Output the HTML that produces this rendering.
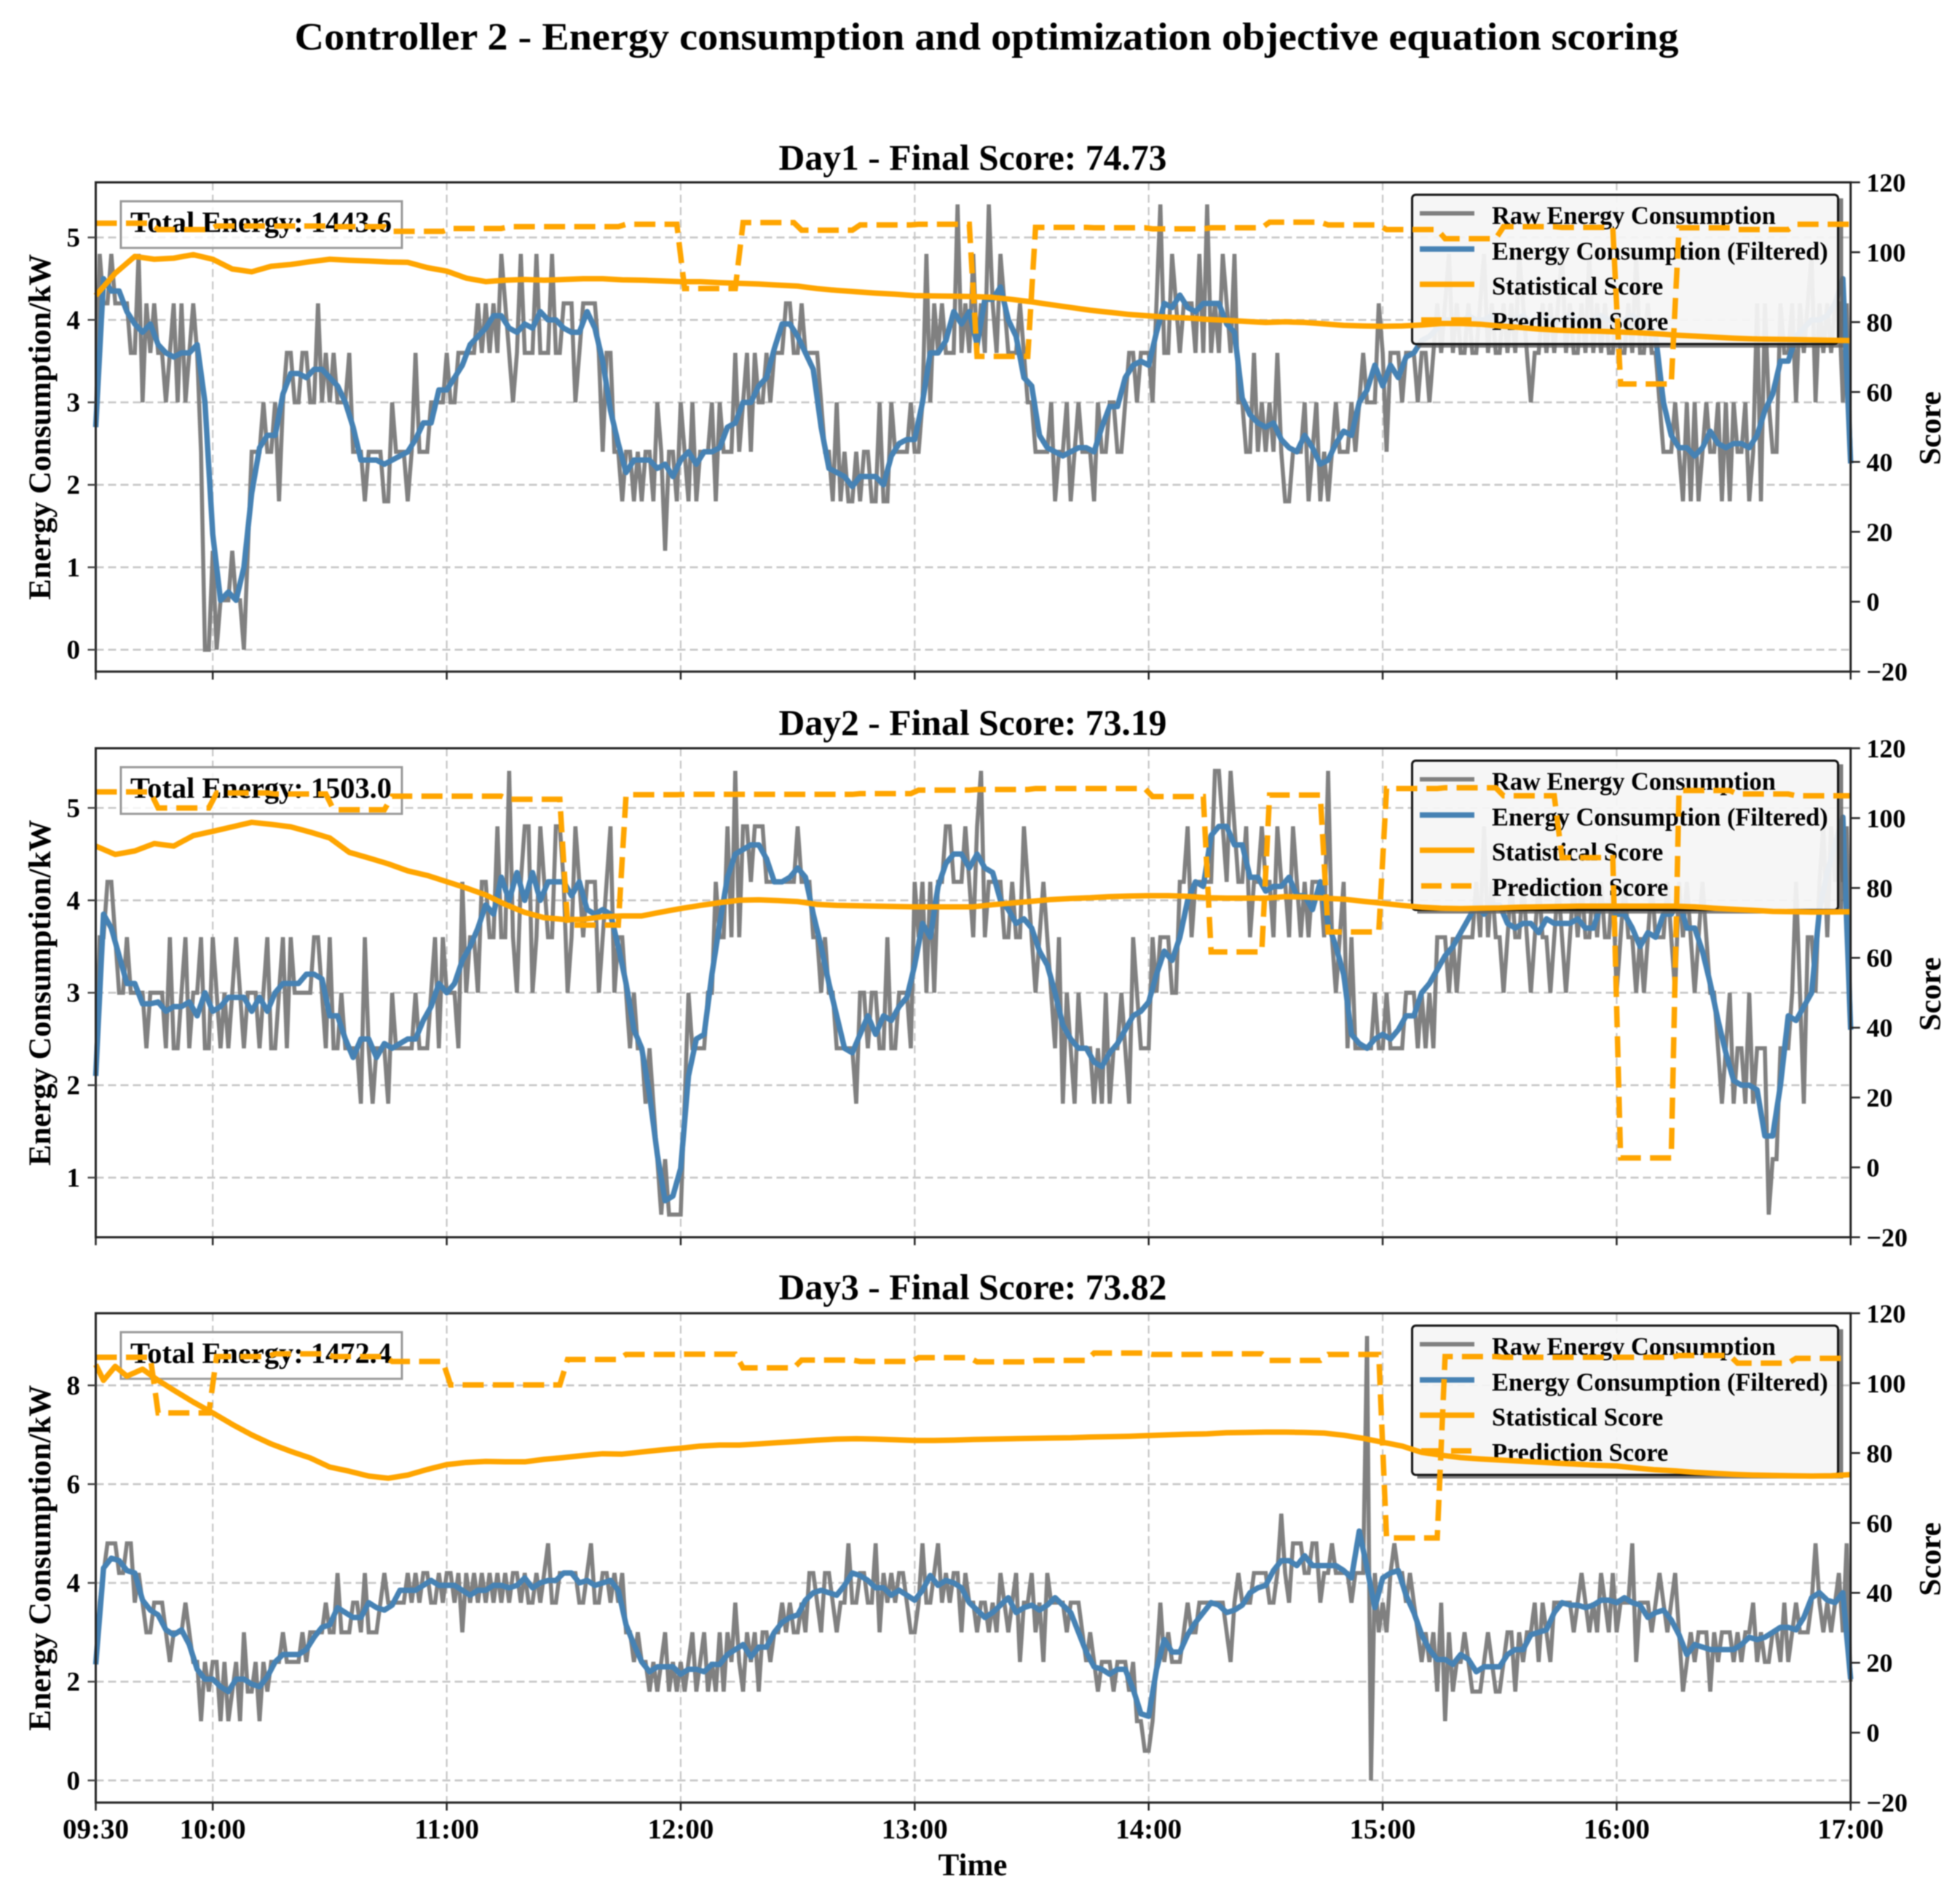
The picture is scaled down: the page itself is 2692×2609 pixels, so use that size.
<!DOCTYPE html>
<html lang="en">
<head>
<meta charset="utf-8">
<title>Controller 2 - Energy consumption and optimization objective equation scoring</title>
<style>
html,body{margin:0;padding:0;background:#fff;}
svg{display:block;filter:blur(0.7px);}
text{font-family:"Liberation Serif",serif;font-weight:bold;fill:#000;}
</style>
</head>
<body>
<svg id="figure" xmlns="http://www.w3.org/2000/svg" width="2692" height="2609" viewBox="0 0 2692 2609">
<rect width="2692" height="2609" fill="#fff"/>
<text x="1355" y="68" text-anchor="middle" font-size="53" textLength="1901" lengthAdjust="spacingAndGlyphs">Controller 2 - Energy consumption and optimization objective equation scoring</text>

<g>
<g id="p0-under"></g>
<g transform="translate(0,250.4)">
<rect x="166" y="26" width="386" height="64" fill="#fff" fill-opacity="0.8" stroke="#999" stroke-width="3"/>
<text x="179" y="68" font-size="40" textLength="359" lengthAdjust="spacingAndGlyphs">Total Energy: 1443.6</text>
</g>
<g transform="translate(0,250.4)">
<path d="M2524.5 22L2531.5 22L2531.5 227L1946.5 227L1946.5 222L2524.5 222Z" fill="#666" fill-opacity="0.85"/>
<rect x="1939.5" y="17" width="585" height="205" rx="5" fill="#f5f5f5" fill-opacity="0.93" stroke="#111" stroke-width="3"/>
<line x1="1950" x2="2025" y1="42.6" y2="42.6" stroke="#808080" stroke-width="6"/>
<text x="2049" y="57" font-size="34.4">Raw Energy Consumption</text>
<line x1="1950" x2="2025" y1="91.6" y2="91.6" stroke="#4682b4" stroke-width="7.5"/>
<text x="2049" y="106" font-size="34.4">Energy Consumption (Filtered)</text>
<line x1="1950" x2="2025" y1="140" y2="140" stroke="#ffa500" stroke-width="7.5"/>
<text x="2049" y="154" font-size="34.4">Statistical Score</text>
<line x1="1952" x2="2025" y1="189" y2="189" stroke="#ffa500" stroke-width="7.5" stroke-dasharray="28,13"/>
<text x="2049" y="202.6" font-size="34.4">Prediction Score</text>
</g>
<g id="p0-over"></g>
<g id="p0-axes"></g>
<text x="1336" y="233" text-anchor="middle" font-size="49.6" textLength="533" lengthAdjust="spacingAndGlyphs">Day1 - Final Score: 74.73</text>
<text transform="translate(69,586.3) rotate(-90)" text-anchor="middle" font-size="43.3" textLength="475" lengthAdjust="spacingAndGlyphs">Energy Consumption/kW</text>
<text transform="translate(2665,588) rotate(-90)" text-anchor="middle" font-size="42.7">Score</text>
</g>

<g>
<g id="p1-under"></g>
<g transform="translate(0,1027.5)">
<rect x="166" y="26" width="386" height="64" fill="#fff" fill-opacity="0.8" stroke="#999" stroke-width="3"/>
<text x="179" y="68" font-size="40" textLength="359" lengthAdjust="spacingAndGlyphs">Total Energy: 1503.0</text>
</g>
<g transform="translate(0,1027.5)">
<path d="M2524.5 22L2531.5 22L2531.5 227L1946.5 227L1946.5 222L2524.5 222Z" fill="#666" fill-opacity="0.85"/>
<rect x="1939.5" y="17" width="585" height="205" rx="5" fill="#f5f5f5" fill-opacity="0.93" stroke="#111" stroke-width="3"/>
<line x1="1950" x2="2025" y1="42.6" y2="42.6" stroke="#808080" stroke-width="6"/>
<text x="2049" y="57" font-size="34.4">Raw Energy Consumption</text>
<line x1="1950" x2="2025" y1="91.6" y2="91.6" stroke="#4682b4" stroke-width="7.5"/>
<text x="2049" y="106" font-size="34.4">Energy Consumption (Filtered)</text>
<line x1="1950" x2="2025" y1="140" y2="140" stroke="#ffa500" stroke-width="7.5"/>
<text x="2049" y="154" font-size="34.4">Statistical Score</text>
<line x1="1952" x2="2025" y1="189" y2="189" stroke="#ffa500" stroke-width="7.5" stroke-dasharray="28,13"/>
<text x="2049" y="202.6" font-size="34.4">Prediction Score</text>
</g>
<g id="p1-over"></g>
<g id="p1-axes"></g>
<text x="1336" y="1009" text-anchor="middle" font-size="49.6" textLength="533" lengthAdjust="spacingAndGlyphs">Day2 - Final Score: 73.19</text>
<text transform="translate(69,1363.2) rotate(-90)" text-anchor="middle" font-size="43.3" textLength="475" lengthAdjust="spacingAndGlyphs">Energy Consumption/kW</text>
<text transform="translate(2665,1365) rotate(-90)" text-anchor="middle" font-size="42.7">Score</text>
</g>

<g>
<g id="p2-under"></g>
<g transform="translate(0,1803.3)">
<rect x="166" y="26" width="386" height="64" fill="#fff" fill-opacity="0.8" stroke="#999" stroke-width="3"/>
<text x="179" y="68" font-size="40" textLength="359" lengthAdjust="spacingAndGlyphs">Total Energy: 1472.4</text>
</g>
<g transform="translate(0,1803.3)">
<path d="M2524.5 22L2531.5 22L2531.5 227L1946.5 227L1946.5 222L2524.5 222Z" fill="#666" fill-opacity="0.85"/>
<rect x="1939.5" y="17" width="585" height="205" rx="5" fill="#f5f5f5" fill-opacity="0.93" stroke="#111" stroke-width="3"/>
<line x1="1950" x2="2025" y1="42.6" y2="42.6" stroke="#808080" stroke-width="6"/>
<text x="2049" y="57" font-size="34.4">Raw Energy Consumption</text>
<line x1="1950" x2="2025" y1="91.6" y2="91.6" stroke="#4682b4" stroke-width="7.5"/>
<text x="2049" y="106" font-size="34.4">Energy Consumption (Filtered)</text>
<line x1="1950" x2="2025" y1="140" y2="140" stroke="#ffa500" stroke-width="7.5"/>
<text x="2049" y="154" font-size="34.4">Statistical Score</text>
<line x1="1952" x2="2025" y1="189" y2="189" stroke="#ffa500" stroke-width="7.5" stroke-dasharray="28,13"/>
<text x="2049" y="202.6" font-size="34.4">Prediction Score</text>
</g>
<g id="p2-over"></g>
<g id="p2-axes"></g>
<text x="1336" y="1784" text-anchor="middle" font-size="49.6" textLength="533" lengthAdjust="spacingAndGlyphs">Day3 - Final Score: 73.82</text>
<text transform="translate(69,2139.3) rotate(-90)" text-anchor="middle" font-size="43.3" textLength="475" lengthAdjust="spacingAndGlyphs">Energy Consumption/kW</text>
<text transform="translate(2665,2141) rotate(-90)" text-anchor="middle" font-size="42.7">Score</text>
</g>

<text x="1336" y="2575" text-anchor="middle" font-size="43">Time</text>
</svg>

<script>
// ---- shared tick data ----
const xTickMinutes = [0, 30, 90, 150, 210, 270, 330, 390, 450];
const xTickLabels = ["09:30", "10:00", "11:00", "12:00", "13:00", "14:00", "15:00", "16:00", "17:00"];
const scoreTicks = [-20, 0, 20, 40, 60, 80, 100, 120];
const day1EnergyTicks = [0, 1, 2, 3, 4, 5];
const day2EnergyTicks = [1, 2, 3, 4, 5];
const day3EnergyTicks = [0, 2, 4, 6, 8];

// ---- Day 1 (raw: 1 min step, filtered: 2 min step, statistical: 5 min step, prediction: 15 min blocks) ----
const day1Raw = [
2.7,4.8,4.2,4.2,4.8,4.2,4.2,4.2,4.2,3.6,3.6,4.8,3.0,4.2,3.6,4.2,3.6,3.6,3.0,3.6,4.2,3.0,4.2,3.0,3.6,4.2,3.6,2.4,0,0,
1.2,0,0.6,0.6,0.6,1.2,0.6,0.6,0,1.2,2.4,2.4,2.4,3.0,2.4,2.4,3.0,1.8,3.0,3.6,3.6,3.0,3.0,3.6,3.6,3.0,3.0,4.2,3.0,3.6,3.0,3.6,3.0,3.0,3.0,3.6,2.4,2.4,2.4,1.8,2.4,2.4,2.4,2.4,1.8,1.8,3.0,2.4,2.4,2.4,1.8,2.4,3.6,2.4,2.4,2.4,3.0,3.0,3.0,3.0,
3.6,3.0,3.0,3.6,3.6,3.6,3.6,3.6,4.2,3.6,4.2,3.6,4.2,3.6,4.8,4.2,3.6,3.0,3.6,4.8,3.6,3.6,3.6,4.8,3.6,3.6,3.6,4.8,3.6,3.6,4.2,4.2,4.2,3.0,3.6,4.2,4.2,4.2,4.2,3.6,2.4,3.6,3.6,2.4,2.4,1.8,2.4,2.4,1.8,2.4,1.8,2.4,2.4,1.8,3.0,2.4,1.2,2.4,2.4,1.8,
3.0,2.4,1.8,3.0,1.8,2.4,2.4,2.4,3.0,1.8,3.0,2.4,2.4,2.4,3.6,2.4,3.0,3.6,2.4,3.6,3.0,3.0,3.6,3.0,3.6,3.6,3.6,4.2,4.2,3.6,3.6,4.2,3.6,3.6,3.6,3.6,3.0,2.4,2.4,1.8,3.0,1.8,2.4,1.8,1.8,2.4,1.8,2.4,2.4,1.8,1.8,3.0,1.8,1.8,3.0,2.4,2.4,2.4,2.4,3.0,
2.4,2.4,3.0,4.8,3.0,4.2,3.6,4.2,3.6,3.6,3.6,5.4,3.6,4.2,3.6,4.8,3.6,4.2,3.6,5.4,4.2,3.6,4.8,4.2,3.6,3.6,3.6,4.2,3.6,3.0,3.0,2.4,2.4,2.4,2.4,3.0,1.8,2.4,2.4,3.0,1.8,2.4,3.0,2.4,2.4,2.4,1.8,3.0,2.4,2.4,3.0,3.0,2.4,2.4,3.0,3.6,3.6,3.0,3.6,3.6,
3.6,3.0,4.2,5.4,3.6,3.6,4.8,4.2,3.6,4.2,4.2,4.2,3.6,4.8,3.6,5.4,3.6,4.2,3.6,4.8,4.2,3.6,4.8,3.0,3.0,2.4,2.4,3.6,2.4,3.0,2.4,3.0,2.4,3.6,2.4,1.8,1.8,2.4,2.4,2.4,3.0,1.8,2.4,3.0,1.8,2.4,1.8,2.4,3.0,2.4,2.4,2.4,3.0,2.4,3.0,3.6,3.0,3.0,3.0,4.2,
3.6,2.4,3.6,3.6,3.6,3.0,3.6,3.6,3.6,3.0,3.6,3.6,3.0,3.6,4.2,3.6,4.2,4.8,3.6,4.2,3.6,3.6,4.2,3.6,3.6,4.2,4.8,3.6,4.2,3.6,3.6,4.2,3.6,4.2,3.6,4.8,4.2,3.6,3.0,3.6,3.6,4.2,3.6,4.2,3.6,4.2,4.8,3.6,4.2,3.6,3.6,4.2,3.6,4.8,3.6,4.2,3.6,4.2,3.6,3.6,
4.2,3.6,3.6,4.2,3.6,4.8,3.6,3.6,4.2,3.6,3.6,3.0,2.4,2.4,2.4,3.0,2.4,1.8,3.0,1.8,3.0,1.8,2.4,3.0,2.4,2.4,3.0,1.8,3.0,1.8,3.0,2.4,2.4,3.0,1.8,2.4,4.2,1.8,4.2,3.0,2.4,2.4,4.2,3.6,3.6,4.2,3.0,4.2,3.6,4.2,4.8,3.0,4.2,3.6,4.2,3.6,4.2,4.2,3.0,4.2,2.4
];
const day1Filtered = [
2.7,4.5,4.35,4.35,4.1,3.95,3.85,3.95,3.7,3.6,3.55,3.6,3.6,3.7,3.0,
1.4,0.6,0.7,0.6,1.0,1.9,2.45,2.6,2.6,3.1,3.35,3.35,3.3,3.4,3.4,3.3,3.2,3.0,2.7,2.3,2.3,2.3,2.25,2.3,2.35,2.4,2.55,2.75,2.75,3.15,
3.15,3.3,3.45,3.7,3.8,3.9,4.05,4.05,3.9,3.85,3.95,3.9,4.1,4.0,4.0,3.9,3.85,3.85,4.1,3.9,3.5,2.9,2.5,2.15,2.3,2.3,2.3,2.2,2.25,2.1,
2.3,2.4,2.25,2.4,2.4,2.45,2.7,2.75,3.0,3.0,3.2,3.3,3.65,3.95,3.95,3.8,3.6,3.4,2.7,2.2,2.15,2.1,1.98,2.1,2.1,2.1,2.0,2.35,2.5,2.55,
2.55,3.0,3.6,3.6,3.75,4.1,3.95,4.1,3.7,4.25,4.25,4.4,4.0,3.8,3.3,3.2,2.6,2.45,2.4,2.35,2.4,2.45,2.45,2.4,2.7,2.95,2.95,3.3,3.45,3.5,
3.45,3.85,4.2,4.15,4.3,4.15,4.1,4.2,4.2,4.2,3.95,3.85,3.05,2.85,2.75,2.7,2.75,2.55,2.45,2.4,2.6,2.45,2.25,2.3,2.5,2.65,2.6,3.0,3.15,3.45,
3.2,3.45,3.3,3.55,3.6,3.75,3.8,3.9,4.0,4.0,3.95,4.05,4.0,4.0,4.05,3.95,4.0,4.0,4.05,3.95,4.0,4.05,3.95,4.0,4.05,4.0,3.95,4.0,4.05,4.0,
3.95,4.0,4.05,4.0,3.95,3.8,3.0,2.6,2.45,2.45,2.35,2.45,2.65,2.5,2.45,2.5,2.5,2.45,2.6,2.9,3.1,3.5,3.5,3.8,3.9,4.0,4.0,4.05,4.2,4.5,2.26
];
const day1Statistical = [87.6,94,98.8,98,98.3,99.3,98,95.2,94.4,96,96.5,97.3,98,97.7,97.5,97.2,97.1,95.6,94.6,92.6,91.6,92,92.2,92,92.2,92.4,92.4,92.1,92,91.8,91.6,91.6,91.3,91.1,90.9,90.6,90.3,89.6,89.1,88.7,88.3,88,87.6,87.5,87.4,87.3,87.1,86.5,85.8,85,84.2,83.4,82.8,82.2,81.8,81.4,81.2,80.8,80.5,80.2,79.9,80.1,79.9,79.5,79.1,78.9,78.8,78.9,79.2,79.6,79.6,79.4,78.9,78.5,78,77.7,77.5,77.4,77.2,77,76.7,76.3,76,75.7,75.4,75.2,75.1,75,74.9,74.8,74.73];
const day1Prediction = [108.3,106.5,107.5,107.5,107.3,106,106.8,107.3,107.3,108,89.6,108.5,106.3,107.8,108,70.2,107.1,107,106.7,107,108.6,107.8,106.5,103.9,107.3,107.1,62.3,107,106.5,108];

// ---- Day 2 ----
const day2Raw = [
2.1,3.6,3.6,4.2,4.2,3.6,3.0,3.0,3.6,3.0,3.0,3.0,3.0,2.4,3.0,3.0,3.0,3.0,2.4,3.6,2.4,2.4,3.0,3.6,2.4,3.0,3.0,3.6,2.4,2.4,
3.6,3.0,2.4,3.0,2.4,3.0,3.6,3.0,2.4,3.0,3.0,3.0,2.4,3.0,3.6,2.4,2.4,3.0,3.6,2.4,3.6,3.0,3.0,3.0,3.0,3.0,3.6,3.6,3.0,2.4,3.6,2.4,2.4,3.0,2.4,2.4,2.4,2.4,1.8,3.6,2.4,1.8,2.4,2.4,2.4,1.8,3.0,2.4,2.4,2.4,2.4,2.4,3.0,2.4,2.4,2.4,3.0,3.6,2.4,3.6,
3.0,3.0,3.0,2.4,4.2,3.0,3.6,3.6,3.0,4.2,4.2,3.6,3.6,4.8,3.6,3.6,5.4,3.6,3.0,4.2,4.8,4.8,3.0,3.6,4.8,4.2,3.6,3.6,4.8,4.8,4.2,3.0,3.6,4.8,4.2,3.6,4.2,4.2,4.2,3.0,3.6,4.2,4.8,3.0,3.6,3.6,3.0,2.4,3.0,2.4,2.4,1.8,2.4,1.8,1.2,0.6,1.2,0.6,0.6,0.6,
0.6,1.8,3.0,2.4,2.4,2.4,2.4,3.0,3.0,4.2,3.6,3.6,4.8,3.6,5.4,3.6,4.8,4.8,4.2,4.8,4.8,4.8,4.2,4.2,4.2,4.2,4.2,4.2,4.2,4.2,4.8,4.2,4.2,4.2,3.6,3.6,3.0,3.6,3.0,3.0,2.4,2.4,2.4,2.4,2.4,1.8,3.0,3.0,2.4,3.0,3.0,2.4,2.4,3.6,2.4,2.4,3.0,3.0,3.0,2.4,
4.2,3.6,4.2,3.0,4.2,3.0,4.2,4.2,4.8,4.8,4.2,4.2,4.2,4.8,4.2,3.6,4.8,5.4,3.6,4.2,4.2,4.2,4.2,3.6,3.6,4.2,3.6,3.6,4.8,4.2,3.6,3.0,3.6,4.2,3.6,3.0,2.4,3.6,1.8,3.0,2.4,1.8,3.0,2.4,2.4,2.4,1.8,2.4,1.8,3.0,1.8,2.4,2.4,3.0,2.4,1.8,3.6,3.0,2.4,2.4,
2.4,3.6,3.0,3.6,3.6,3.6,3.0,3.0,4.2,4.2,4.8,3.6,4.2,4.2,4.2,4.2,4.2,5.4,5.4,4.8,4.2,5.4,4.8,4.2,4.2,4.8,3.6,4.2,4.2,4.8,4.2,4.2,3.6,4.8,4.2,4.2,3.6,4.8,4.2,3.6,4.2,3.6,4.2,4.2,4.2,3.6,5.4,3.6,3.0,3.6,4.2,2.4,3.6,2.4,2.4,2.4,2.4,2.4,3.0,2.4,
2.4,3.0,2.4,2.4,2.4,2.4,3.0,3.0,3.0,2.4,3.0,2.4,3.0,2.4,3.6,3.6,3.6,3.0,3.6,3.0,3.6,3.6,3.6,3.6,4.2,3.6,4.8,3.6,4.2,3.6,3.6,3.0,3.6,4.2,3.6,3.6,4.2,3.6,3.0,3.6,4.2,3.6,3.6,3.0,3.6,4.2,3.6,3.0,3.6,4.2,3.6,4.2,3.6,3.6,4.2,3.6,4.2,3.6,3.6,4.2,
3.0,3.6,4.2,3.6,3.6,3.0,3.6,3.0,3.6,4.2,3.6,3.6,3.6,4.2,3.6,3.0,4.2,3.6,4.2,3.6,3.0,3.6,4.2,3.6,3.0,3.0,2.4,1.8,2.4,3.0,1.8,2.4,2.4,1.8,3.0,1.8,2.4,2.4,2.4,0.6,1.2,1.2,2.4,2.4,2.4,3.0,4.2,3.0,1.8,3.6,3.6,3.0,4.2,4.8,3.6,4.8,4.2,4.8,4.2,4.8,2.7
];
const day2Filtered = [
2.1,3.85,3.7,3.4,3.1,3.1,2.88,2.88,2.9,2.8,2.85,2.85,2.9,2.75,3.0,
2.8,2.85,2.95,2.95,2.95,2.8,2.95,2.8,3.0,3.1,3.1,3.1,3.2,3.2,3.15,2.75,2.75,2.5,2.3,2.5,2.5,2.3,2.45,2.4,2.45,2.5,2.5,2.7,2.85,3.1,
3.0,3.1,3.35,3.5,3.7,3.95,3.85,4.25,4.0,4.3,4.0,4.3,4.0,4.2,4.2,4.2,4.05,4.2,3.9,3.85,3.9,3.85,3.5,3.1,2.6,2.4,1.9,1.25,0.75,0.8,
1.1,2.1,2.5,2.55,3.2,3.75,4.25,4.5,4.55,4.6,4.6,4.45,4.2,4.2,4.25,4.35,4.25,3.85,3.5,3.1,2.75,2.4,2.35,2.55,2.75,2.55,2.75,2.7,2.85,2.95,
3.3,3.75,3.6,4.15,4.4,4.5,4.5,4.35,4.5,4.35,4.3,4.0,3.9,3.75,3.8,3.7,3.45,3.3,3.0,2.65,2.5,2.4,2.4,2.25,2.2,2.35,2.45,2.6,2.75,2.8,
2.9,3.2,3.45,3.35,3.6,4.0,4.2,4.15,4.7,4.8,4.8,4.6,4.6,4.25,4.25,4.1,4.15,4.15,4.25,4.05,4.05,3.9,4.2,3.75,3.5,3.2,2.55,2.45,2.4,2.5,
2.55,2.5,2.6,2.75,2.75,3.0,3.1,3.25,3.4,3.5,3.65,3.8,3.95,3.85,3.95,3.95,3.75,3.7,3.75,3.75,3.65,3.8,3.75,3.75,3.75,3.8,3.7,3.7,3.95,3.95,
3.85,3.85,3.7,3.5,3.65,3.6,3.85,3.85,4.0,3.7,3.7,3.45,3.1,2.7,2.35,2.05,2.0,2.0,1.95,1.45,1.45,2.0,2.75,2.7,2.85,3.0,3.9,4.3,4.6,4.9,2.6
];
const day2Statistical = [92,89.6,90.6,92.7,92,95,96.2,97.5,98.8,98.2,97.5,96,94.3,90.2,88.6,86.9,84.9,83.6,81.8,80,78,75.3,73,71.5,71,71,71.8,72,72,73.1,74.1,75,75.8,76.5,76.6,76.4,76.1,75.3,75,74.9,74.8,74.7,74.6,74.6,74.6,74.6,75.2,75.7,76.2,76.7,77,77.2,77.5,77.7,77.8,77.8,77.6,77.2,77.1,77.1,77.1,77.5,77.4,77.1,76.8,76.2,75.6,75,74.5,74.2,74.1,74.2,74.3,74.5,74.6,74.7,74.8,74.8,74.8,74.8,74.8,74.8,74.6,74.2,73.9,73.6,73.3,73.2,73.1,73.15,73.19];
const day2Prediction = [107.5,102.9,107.2,106.9,102.4,106.3,106.3,105.4,69.4,106.7,106.8,106.8,106.8,107,108,108.2,108.5,108.5,106.2,61.7,106.6,67.4,108.5,108.7,106.4,88.7,2.7,107.9,106.9,106.4];

// ---- Day 3 ----
const day3Raw = [
2.4,3.6,4.2,4.8,4.8,4.8,4.2,4.2,4.8,4.8,3.6,4.2,3.6,3.0,3.0,3.6,3.6,3.6,3.0,2.4,3.0,3.0,3.0,3.6,3.0,2.4,2.4,1.2,2.4,1.8,
2.4,2.4,1.2,2.4,1.2,1.8,2.4,1.2,3.0,1.8,1.8,2.4,1.2,2.4,1.8,2.4,2.4,2.4,3.0,2.4,2.4,2.4,2.4,3.0,2.4,3.0,3.0,3.0,3.0,3.6,3.0,3.0,4.2,3.0,3.0,3.0,3.6,3.6,3.0,4.2,3.0,3.0,3.0,3.6,4.2,3.6,3.6,3.6,3.6,3.6,4.2,3.6,4.2,3.6,4.2,4.2,3.6,3.6,4.2,3.6,
4.2,4.2,3.6,4.2,3.0,4.2,3.6,4.2,3.6,4.2,3.6,4.2,3.6,4.2,3.6,4.2,3.6,4.2,4.2,3.6,4.2,3.6,3.6,4.2,3.6,4.2,4.8,3.6,3.6,4.2,4.2,4.2,4.2,4.2,3.6,3.6,4.2,4.8,3.6,3.6,4.2,4.2,3.6,4.2,3.6,4.2,3.0,3.0,2.4,3.0,2.4,2.4,1.8,2.4,1.8,2.4,3.0,1.8,2.4,1.8,
2.4,1.8,2.4,3.0,1.8,2.4,3.0,1.8,2.4,1.8,3.0,1.8,3.0,2.4,3.6,2.4,1.8,3.0,2.4,3.0,1.8,3.0,3.0,2.4,3.0,3.0,3.6,3.0,3.6,3.0,3.0,3.6,3.0,4.2,4.2,3.6,3.0,4.2,4.2,3.6,3.0,3.6,3.6,4.8,3.6,3.6,4.2,4.2,3.6,3.6,4.8,3.0,4.2,3.6,4.2,3.6,4.2,4.2,3.6,3.0,
3.0,3.6,4.8,3.6,3.6,4.2,4.8,3.6,4.2,3.6,4.2,4.2,3.0,4.2,3.6,3.6,3.0,3.6,3.6,3.0,3.6,3.0,4.2,3.6,3.0,3.6,4.2,2.4,3.6,3.6,4.2,3.0,3.6,2.4,4.2,3.6,3.6,3.6,3.6,3.0,3.6,3.6,3.6,3.0,2.4,3.0,2.4,1.8,2.4,2.4,2.4,1.8,2.4,2.4,2.4,1.8,2.4,1.2,1.2,0.6,
0.6,1.2,2.4,3.6,2.4,3.0,2.4,2.4,2.4,3.0,3.6,3.0,3.0,3.6,3.6,3.6,3.6,3.6,3.6,3.6,3.0,2.4,3.6,4.2,3.6,3.6,3.6,4.2,4.2,4.2,4.2,3.6,3.6,4.2,5.4,4.2,3.6,4.8,4.8,4.8,4.2,4.2,4.8,4.8,3.6,4.2,4.2,4.8,4.2,4.2,4.2,4.2,3.6,4.2,4.2,4.2,9.0,0,4.2,3.0,
3.6,3.0,4.2,4.8,4.2,4.2,3.6,4.2,3.6,3.0,2.4,3.0,2.4,3.0,1.8,3.6,1.2,3.0,1.8,2.4,2.4,3.0,2.4,1.8,1.8,1.8,2.4,3.0,2.4,1.8,1.8,2.4,3.0,3.0,1.8,3.0,2.4,3.0,3.0,3.6,2.4,3.6,3.0,2.4,3.6,3.6,3.6,3.6,3.6,3.0,3.6,4.2,3.6,3.0,3.6,3.0,4.2,3.6,3.0,4.2,
3.0,3.6,3.6,3.6,4.8,2.4,3.6,3.6,3.6,3.0,3.6,4.2,3.6,3.0,3.6,4.2,3.0,1.8,2.4,3.0,2.4,3.0,3.0,3.0,1.8,3.0,2.4,3.0,3.0,3.0,2.4,3.0,2.4,3.0,3.0,3.6,2.4,3.0,2.4,2.4,3.0,3.0,2.4,3.6,2.4,3.0,3.6,3.0,3.0,3.0,3.6,4.8,3.6,3.0,3.6,3.0,3.6,4.2,3.0,4.8,2.0
];
const day3Filtered = [
2.35,4.3,4.5,4.45,4.25,4.2,3.65,3.45,3.35,3.05,2.95,3.05,2.75,2.25,2.05,
2.05,1.9,1.8,2.05,2.05,1.95,1.9,2.1,2.4,2.55,2.55,2.55,2.65,2.9,3.1,3.15,3.5,3.4,3.3,3.3,3.6,3.5,3.45,3.55,3.85,3.85,3.85,3.95,4.05,3.95,
3.95,3.95,3.85,3.75,3.85,3.85,3.95,3.95,3.9,3.95,4.1,3.9,4.0,4.05,4.05,4.2,4.2,4.0,4.05,3.95,4.0,4.05,3.85,3.15,2.75,2.4,2.2,2.3,2.3,2.3,
2.15,2.25,2.25,2.2,2.35,2.35,2.55,2.65,2.75,2.5,2.7,2.7,3.0,3.2,3.3,3.35,3.65,3.8,3.85,3.8,3.75,3.95,4.2,4.15,4.05,3.9,3.9,3.75,3.85,3.75,
3.65,3.85,4.15,3.95,4.05,4.0,3.9,3.6,3.45,3.3,3.4,3.55,3.7,3.4,3.5,3.55,3.45,3.55,3.7,3.55,3.4,3.0,2.6,2.3,2.25,2.15,2.25,2.25,1.85,1.35,
1.3,2.25,2.85,2.6,2.6,2.95,3.2,3.4,3.6,3.55,3.4,3.45,3.55,3.8,3.9,3.95,4.25,4.45,4.45,4.35,4.55,4.35,4.35,4.35,4.35,4.25,4.1,5.05,4.3,3.5,
4.1,4.2,4.25,3.75,3.4,2.95,2.65,2.45,2.45,2.35,2.55,2.45,2.2,2.3,2.3,2.3,2.55,2.65,2.65,2.95,3.0,3.05,3.4,3.6,3.55,3.55,3.5,3.55,3.65,3.65,
3.6,3.7,3.6,3.55,3.3,3.4,3.45,3.25,2.95,2.55,2.75,2.7,2.65,2.65,2.65,2.65,2.75,2.9,2.85,2.9,3.0,3.1,3.1,3.05,3.3,3.7,3.8,3.65,3.6,3.8,2.05
];
const day3StatisticalMinutes = [0,2,5,8,12,16,20,25,30,35,40,45,50,55,60,65,70,75,80,85,90,95,100,105,110,115,120,125,130,135,140,145,150,155,160,165,170,175,180,185,190,195,200,205,210,215,220,225,230,235,240,245,250,255,260,265,270,275,280,285,290,295,300,305,310,315,320,325,330,335,340,345,350,355,360,365,370,375,380,385,390,395,400,405,410,415,420,425,430,435,440,445,450];
const day3Statistical = [105.3,100.8,104.8,102,104,100.8,98,94.6,91.5,88.2,85.2,82.6,80.5,78.6,76,74.8,73.4,72.8,73.7,75.3,76.7,77.3,77.6,77.5,77.5,78.2,78.7,79.3,79.8,79.7,80.3,80.9,81.4,82,82.3,82.3,82.6,83,83.3,83.7,84,84.1,84,83.8,83.6,83.6,83.7,83.9,84,84.1,84.2,84.3,84.4,84.6,84.7,84.8,85,85.2,85.4,85.5,85.8,85.9,86,86,85.9,85.7,85.1,84.2,83.1,82,80.2,79.4,78.7,78.3,78,77.7,77.4,77.1,76.8,76.5,76.3,75.7,75.2,74.9,74.5,74.2,73.9,73.7,73.6,73.5,73.4,73.5,73.82];
const day3Prediction = [107.4,91.5,107.6,108.4,107.6,106.2,99.5,99.5,106.8,108.2,108.3,104.4,106.6,106.2,107.3,106.1,106.5,108.6,108.2,108.4,106.5,108.2,55.7,107.6,107.4,107.4,107.4,107.9,105.7,107.1];

// ---- drawing ----
const SVGNS = "http://www.w3.org/2000/svg";
const AXIS_LEFT = 131.5;
const AXIS_RIGHT = 2541.8;
const TOTAL_MINUTES = 450;

function make(tag, attrs, parent) {
  const node = document.createElementNS(SVGNS, tag);
  for (const k in attrs) node.setAttribute(k, attrs[k]);
  parent.appendChild(node);
  return node;
}
function xScale(minute) {
  return AXIS_LEFT + minute * (AXIS_RIGHT - AXIS_LEFT) / TOTAL_MINUTES;
}
function linearScale(lo, hi, bottom, top) {
  return function (v) { return bottom + (v - lo) * (top - bottom) / (hi - lo); };
}
function evenPath(values, yFn) {
  const last = values.length - 1;
  return values.map(function (v, i) {
    return (i ? "L" : "M") + xScale(i * TOTAL_MINUTES / last).toFixed(1) + " " + yFn(v).toFixed(1);
  }).join("");
}
function timedPath(minutes, values, yFn) {
  return values.map(function (v, i) {
    return (i ? "L" : "M") + xScale(minutes[i]).toFixed(1) + " " + yFn(v).toFixed(1);
  }).join("");
}
function blockPath(values, yFn) {
  const block = TOTAL_MINUTES / values.length;
  let d = "";
  values.forEach(function (v, i) {
    const start = i * block + (i ? 1 : 0);
    const end = (i + 1) * block - (i === values.length - 1 ? 0 : 1);
    d += (i ? "L" : "M") + xScale(start).toFixed(1) + " " + yFn(v).toFixed(1);
    d += "L" + xScale(end).toFixed(1) + " " + yFn(v).toFixed(1);
  });
  return d;
}

function drawPanel(index, top, bottom, energyLo, energyHi, energyTicks, raw, filtered, statistical, statisticalMinutes, prediction, showXLabels) {
  const under = document.getElementById("p" + index + "-under");
  const over = document.getElementById("p" + index + "-over");
  const axes = document.getElementById("p" + index + "-axes");
  const yEnergy = linearScale(energyLo, energyHi, bottom, top);
  const yScore = linearScale(-20, 120, bottom, top);

  energyTicks.forEach(function (t) {
    const g = make("line", {x1: AXIS_LEFT, x2: AXIS_RIGHT, y1: yEnergy(t), y2: yEnergy(t), stroke: "#c6c6c6", "stroke-width": 2.6, "stroke-dasharray": "11,6"}, under);
    
    
  });
  xTickMinutes.forEach(function (m) {
    const g = make("line", {x1: xScale(m), x2: xScale(m), y1: top, y2: bottom, stroke: "#c6c6c6", "stroke-width": 2.2, "stroke-dasharray": "11,6"}, under);
    
    
  });

  const rawLine = make("path", {d: evenPath(raw, yEnergy), fill: "none", stroke: "#808080", "stroke-width": 5.6, "stroke-linejoin": "miter"}, under);
  
  

  const filteredLine = make("path", {d: evenPath(filtered, yEnergy), fill: "none", stroke: "#4682b4", "stroke-width": 7.5, "stroke-linejoin": "round"}, under);
  
  

  const statD = statisticalMinutes ? timedPath(statisticalMinutes, statistical, yScore) : evenPath(statistical, yScore);
  const statLine = make("path", {d: statD, fill: "none", stroke: "#ffa500", "stroke-width": 7.5, "stroke-linejoin": "round"}, over);
  
  

  const predLine = make("path", {d: blockPath(prediction, yScore), fill: "none", stroke: "#ffa500", "stroke-width": 7.5, "stroke-dasharray": "29,12.5"}, over);
  
  

  const frame = make("rect", {x: AXIS_LEFT, y: top, width: AXIS_RIGHT - AXIS_LEFT, height: bottom - top, fill: "none", stroke: "#222", "stroke-width": 3}, axes);
  
  

  energyTicks.forEach(function (t) {
    const mark = make("line", {x1: AXIS_LEFT - 11, x2: AXIS_LEFT, y1: yEnergy(t), y2: yEnergy(t), stroke: "#444", "stroke-width": 2.5}, axes);
    
    
    const label = make("text", {x: 110, y: yEnergy(t) + 12.5, "text-anchor": "end", "font-size": 37}, axes);
    label.textContent = String(t);
    
    
  });

  scoreTicks.forEach(function (t) {
    const mark = make("line", {x1: AXIS_RIGHT, x2: AXIS_RIGHT + 13, y1: yScore(t), y2: yScore(t), stroke: "#222", "stroke-width": 2.5}, axes);
    
    
    const label = make("text", {x: 2563.5, y: yScore(t) + 12.5, "font-size": 36}, axes);
    label.textContent = String(t).replace("-", "\u2212");
    
    
  });

  xTickMinutes.forEach(function (m, i) {
    const mark = make("line", {x1: xScale(m), x2: xScale(m), y1: bottom, y2: bottom + 11, stroke: "#222", "stroke-width": 2.5}, axes);
    
    
    if (showXLabels) {
      const label = make("text", {x: xScale(m), y: 2524.5, "text-anchor": "middle", "font-size": 39}, axes);
      label.textContent = xTickLabels[i];
      
      
    }
  });
}

drawPanel(0, 250.4, 922.2, -0.265, 5.668, day1EnergyTicks, day1Raw, day1Filtered, day1Statistical, null, day1Prediction, false);
drawPanel(1, 1027.5, 1698.9, 0.355, 5.645, day2EnergyTicks, day2Raw, day2Filtered, day2Statistical, null, day2Prediction, false);
drawPanel(2, 1803.3, 2475.2, -0.448, 9.46, day3EnergyTicks, day3Raw, day3Filtered, day3Statistical, day3StatisticalMinutes, day3Prediction, true);
</script>
</body>
</html>
